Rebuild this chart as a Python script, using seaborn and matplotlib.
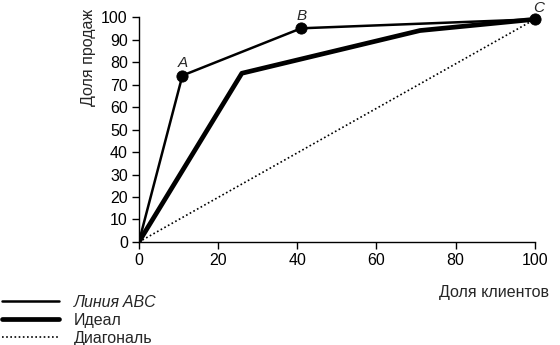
import matplotlib
matplotlib.use("Agg")
import matplotlib.pyplot as plt
import seaborn as sns
import pandas as pd

# data
abc_x = [0, 11, 41, 100]
abc_y = [0, 74, 95, 99]
ideal_x = [0, 26, 71, 100]
ideal_y = [0, 75, 94, 99]
diag_x = [0, 100]
diag_y = [0, 99]
point_labels = ["A", "B", "C"]
legend_labels = ["Линия ABC", "Идеал", "Диагональ"]
x_ticks = [0, 20, 40, 60, 80, 100]
y_ticks = [0, 10, 20, 30, 40, 50, 60, 70, 80, 90, 100]
x_title = "Доля клиентов"
y_title = "Доля продаж"

sns.set_theme(style="ticks")
plt.rcParams['font.family'] = ['Liberation Sans', 'DejaVu Sans']

fig = plt.figure(figsize=(5.6, 3.45), dpi=100)
ax = fig.add_axes([0.248, 0.2986, 0.707, 0.652])

abc = pd.DataFrame({"x": abc_x, "y": abc_y})
ideal = pd.DataFrame({"x": ideal_x, "y": ideal_y})
diag = pd.DataFrame({"x": diag_x, "y": diag_y})

sns.lineplot(data=abc, x="x", y="y", ax=ax, color="black", lw=1.8,
             label=legend_labels[0], sort=False)
sns.lineplot(data=ideal, x="x", y="y", ax=ax, color="black", lw=3.4,
             label=legend_labels[1], sort=False)
sns.lineplot(data=diag, x="x", y="y", ax=ax, color="black", lw=1.2,
             linestyle=(0, (1, 1.5)), label=legend_labels[2], sort=False)
pts = abc.iloc[1:]
sns.scatterplot(data=pts, x="x", y="y", ax=ax, color="black", s=65,
                edgecolor="black", zorder=5, legend=False, clip_on=False)
offsets = [(0, 4), (0, 4), (3, 3)]
for lab, (px, py), off in zip(point_labels, zip(pts["x"], pts["y"]), offsets):
    ax.annotate(lab, (px, py), xytext=off, textcoords="offset points",
                ha="center", va="bottom", fontsize=11, style="italic",
                annotation_clip=False)

ax.set_xlim(0, 100)
ax.set_ylim(0, 100)
ax.set_xticks(x_ticks)
ax.set_yticks(y_ticks)
ax.tick_params(labelsize=11.5, length=5, width=1, color="black",
               labelcolor="black", pad=3)
for s in ["top", "right"]:
    ax.spines[s].set_visible(False)
for s in ["left", "bottom"]:
    ax.spines[s].set_color("black")
    ax.spines[s].set_linewidth(1)
ax.set_xlabel("")
ax.set_ylabel("")
fig.text(0.98, (345 - 292) / 345, x_title, ha="right", va="center", fontsize=11.5)
fig.text(88 / 560, 0.975, y_title, ha="center", va="top", rotation=90, fontsize=11.5)

leg = ax.legend(loc="upper left", bbox_to_anchor=(0.0, (345 - 293) / 345),
                bbox_transform=fig.transFigure, frameon=False, fontsize=11.5,
                handlelength=3.6, handletextpad=0.9, labelspacing=0.2,
                borderaxespad=0, borderpad=0.1)
leg.get_texts()[0].set_style("italic")

fig.savefig("out.png", dpi=100)
